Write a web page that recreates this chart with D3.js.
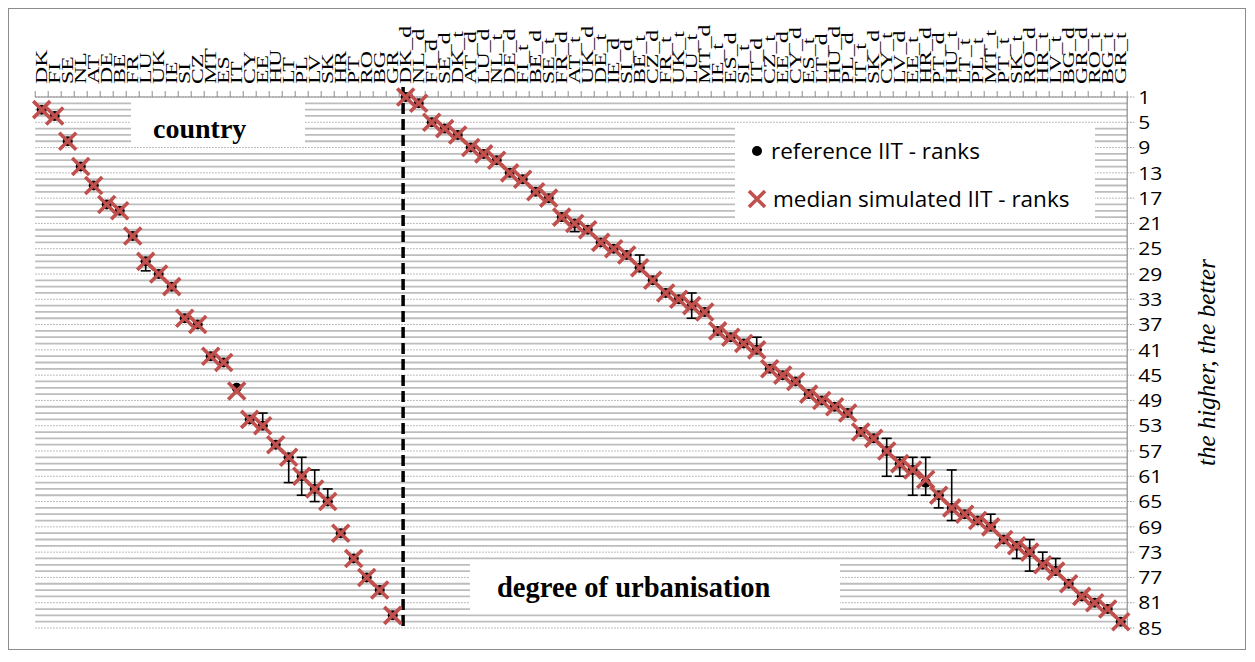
<!DOCTYPE html>
<html>
<head>
<meta charset="utf-8">
<script src="https://cdn.jsdelivr.net/npm/d3@7"></script>
<style>
  body { margin: 0; background: #fff; }
  svg { display: block; }
</style>
</head>
<body>
<svg id="chart" width="1255" height="662"></svg>
<script>
// National units, in rank order
const countryCodes = ["DK","FI","SE","NL","AT","DE","BE","FR","LU","UK","IE","SI","CZ","MT",
  "ES","IT","CY","EE","HU","LT","PL","LV","SK","HR","PT","RO","BG","GR"];
const countryRef    = [3,4,8,12,15,18,19,23,27,29,31,36,37,42,43,47,52,53,56,58,61,63,65,70,74,77,79,83];
const countryMedian = [3,4,8,12,15,18,19,23,27,29,31,36,37,42,43,47.5,52,53,56,58,61,63,65,70,74,77,79,83];
const countryLow    = [null,null,null,null,null,null,null,null,27,null,null,null,null,null,
  null,null,null,51,null,58,58,60,63,null,null,null,null,null];
const countryHigh   = [null,null,null,null,null,null,null,null,28.5,null,null,null,null,null,
  null,null,null,53,null,62,64,65,65,null,null,null,null,null];

// Degree-of-urbanisation units, in rank order
const urbanCodes = ["DK_d","NL_d","FI_d","SE_d","DK_t","AT_d","LU_d","NL_t","DE_d","FI_t","BE_d","SE_t",
  "FR_d","AT_t","UK_d","DE_t","IE_d","SI_d","BE_t","CZ_d","FR_t","UK_t","LU_t","MT_d","IE_t","ES_d",
  "SI_t","IT_d","CZ_t","EE_d","CY_d","ES_t","LT_d","HU_d","PL_d","IT_t","SK_d","CY_t","LV_d","EE_t",
  "HR_d","PT_d","HU_t","LT_t","PL_t","MT_t","PT_t","SK_t","RO_d","HR_t","LV_t","BG_d","GR_d","RO_t",
  "BG_t","GR_t"];
const urbanRef    = [1,2,5,6,7,9,10,11,13,14,16,17,20,21,22,24,25,26,28,30,32,33,34,35,38,39,40,41,
  44,45,46,48,49,50,51,54,55,57,59,60,62,64,66,67,68,69,71,72,73,75,76,78,80,81,82,84];
const urbanMedian = [1,2,5,6,7,9,10,11,13,14,16,17,20,21,22,24,25,26,28,30,32,33,34,35,38,39,40,41,
  44,45,46,48,49,50,51,54,55,57,59,60,61.5,64,66,67,68,69,71,72,73,75,76,78,80,81,82,84];
const urbanLow  = [null,null,null,null,null,null,null,null,null,null,null,null,null,21,null,null,null,null,
  26,null,null,null,32,null,null,null,null,39,null,null,null,null,null,null,null,null,null,55,58,58,
  58,64,60,null,null,67,null,72,71,73,74,null,null,null,null,null];
const urbanHigh = [null,null,null,null,null,null,null,null,null,null,null,null,null,22.3,null,null,null,null,
  28,null,null,null,36,null,null,null,null,41,null,null,null,null,null,null,null,null,null,61,61,64,
  64,66,68,null,null,69,null,74,76,75,76,null,null,null,null,null];

const rankTicks = d3.range(1, 86, 4);
const rankLines = d3.range(1, 86);

const svg = d3.select("#chart");
const allCodes = countryCodes.concat(urbanCodes);

const x = d3.scaleBand().domain(allCodes).range([35.2, 1127.2]).padding(0);
const y = d3.scaleLinear().domain([1, 85]).range([97, 628]);
const bw = x.bandwidth();
const cx = c => x(c) + bw / 2;

const units = countryCodes.map((c, i) => ({code: c, ref: countryRef[i], med: countryMedian[i], lo: countryLow[i], hi: countryHigh[i]}))
  .concat(urbanCodes.map((c, i) => ({code: c, ref: urbanRef[i], med: urbanMedian[i], lo: urbanLow[i], hi: urbanHigh[i]})));

// outer frame
svg.append("rect").attr("x", 8.5).attr("y", 8.5).attr("width", 1237).attr("height", 641)
  .attr("fill", "#fff").attr("stroke", "#8c8c8c").attr("stroke-width", 1);

const [x0, x1] = x.range();

// one gridline per rank: dotted at labelled ranks, solid elsewhere
svg.append("g").selectAll("line").data(rankLines).join("line")
  .attr("x1", x0).attr("x2", x1)
  .attr("y1", d => y(d)).attr("y2", d => y(d))
  .attr("stroke", d => (d - 1) % 4 === 0 ? "#a6a6a6" : "#bdbdbd")
  .attr("stroke-width", d => (d - 1) % 4 === 0 ? 1 : 1.8)
  .attr("stroke-dasharray", d => (d - 1) % 4 === 0 ? "1.5,1.5" : null);

// white panels behind the texts
svg.append("rect").attr("x", 131).attr("y", 99).attr("width", 174).attr("height", 46).attr("fill", "#fff");
svg.append("rect").attr("x", 470).attr("y", 562).attr("width", 370).attr("height", 50).attr("fill", "#fff");
svg.append("rect").attr("x", 735).attr("y", 125).attr("width", 360).attr("height", 95).attr("fill", "#fff");

// category axis along the top
const xAxis = svg.append("g");
xAxis.append("line").attr("x1", x0).attr("x2", x1).attr("y1", y(1)).attr("y2", y(1))
  .attr("stroke", "#8c8c8c").attr("stroke-width", 1.2);
xAxis.selectAll("line.tick").data(allCodes.concat([null])).join("line").attr("class", "tick")
  .attr("x1", (d, i) => x0 + i * bw).attr("x2", (d, i) => x0 + i * bw)
  .attr("y1", y(1)).attr("y2", y(1) - 6)
  .attr("stroke", "#8c8c8c").attr("stroke-width", 1);
xAxis.selectAll("text").data(allCodes).join("text")
  .attr("transform", d => `translate(${cx(d) + 5.5},${y(1) - 13}) rotate(-90) scale(1.4,1)`)
  .attr("font-family", "'Liberation Serif', 'DejaVu Serif', serif")
  .attr("font-size", 17).attr("fill", "#000")
  .text(d => d);

// rank axis on the right
const yAxis = svg.append("g");
yAxis.append("line").attr("x1", x1).attr("x2", x1).attr("y1", y(1)).attr("y2", y(85))
  .attr("stroke", "#8c8c8c").attr("stroke-width", 1.2);
yAxis.selectAll("line.tick").data(rankTicks).join("line").attr("class", "tick")
  .attr("x1", x1).attr("x2", x1 + 7).attr("y1", d => y(d)).attr("y2", d => y(d))
  .attr("stroke", "#8c8c8c").attr("stroke-dasharray", "1.5,1.5");
yAxis.selectAll("text").data(rankTicks).join("text")
  .attr("transform", d => `translate(${x1 + 11},${y(d)}) scale(1.14,1)`)
  .attr("dy", "0.36em")
  .attr("font-family", "'Open Sans', sans-serif").attr("font-size", 18.5).attr("fill", "#000")
  .text(d => d);
svg.append("text")
  .attr("transform", `translate(1206,${(y(1) + y(85)) / 2}) rotate(-90)`)
  .attr("text-anchor", "middle").attr("dy", "0.35em")
  .attr("font-family", "'Liberation Serif', serif").attr("font-style", "italic")
  .attr("font-size", 25).attr("fill", "#000")
  .text("the higher, the better");

// separator between the two groups
const sepX = x(urbanCodes[0]) + bw * 0.3;
svg.append("line").attr("x1", sepX).attr("x2", sepX).attr("y1", y(1) - 10).attr("y2", y(85) + 2)
  .attr("stroke", "#000").attr("stroke-width", 3.5).attr("stroke-dasharray", "11,5");

// error bars of the simulated ranks
const eb = units.filter(d => d.lo !== null);
const ebG = svg.append("g").attr("stroke", "#000").attr("stroke-width", 1.6);
ebG.selectAll("line.v").data(eb).join("line").attr("class", "v")
  .attr("x1", d => cx(d.code)).attr("x2", d => cx(d.code))
  .attr("y1", d => y(d.lo)).attr("y2", d => y(d.hi));
ebG.selectAll("line.lo").data(eb).join("line").attr("class", "lo")
  .attr("x1", d => cx(d.code) - 5).attr("x2", d => cx(d.code) + 5)
  .attr("y1", d => y(d.lo)).attr("y2", d => y(d.lo));
ebG.selectAll("line.hi").data(eb).join("line").attr("class", "hi")
  .attr("x1", d => cx(d.code) - 5).attr("x2", d => cx(d.code) + 5)
  .attr("y1", d => y(d.hi)).attr("y2", d => y(d.hi));

// reference ranks
svg.append("g").selectAll("circle").data(units).join("circle")
  .attr("cx", d => cx(d.code)).attr("cy", d => y(d.ref)).attr("r", 5).attr("fill", "#000");

// median simulated ranks
const cross = s => `M${-s},${-s}L${s},${s}M${-s},${s}L${s},${-s}`;
svg.append("g").selectAll("path").data(units).join("path")
  .attr("transform", d => `translate(${cx(d.code)},${y(d.med)})`)
  .attr("d", cross(8.5)).attr("stroke", "#c0504d").attr("stroke-width", 3.6).attr("fill", "none");

// panel titles
svg.append("text").attr("x", 153).attr("y", 138)
  .attr("font-family", "'Liberation Serif', serif").attr("font-weight", "bold")
  .attr("font-size", 28).attr("fill", "#000").text("country");
svg.append("text").attr("x", 497).attr("y", 597)
  .attr("font-family", "'Liberation Serif', serif").attr("font-weight", "bold")
  .attr("font-size", 28.5).attr("fill", "#000").text("degree of urbanisation");

// legend
const lg = svg.append("g").attr("font-family", "'Open Sans', sans-serif").attr("font-size", 22.5).attr("fill", "#000");
lg.append("circle").attr("cx", 757).attr("cy", 151).attr("r", 5).attr("fill", "#000");
lg.append("text").attr("x", 771).attr("y", 151).attr("dy", "0.35em").text("reference IIT - ranks");
lg.append("path").attr("transform", "translate(757,199)").attr("d", cross(8))
  .attr("stroke", "#c0504d").attr("stroke-width", 3.6).attr("fill", "none");
lg.append("text").attr("x", 773).attr("y", 199).attr("dy", "0.35em").text("median simulated IIT - ranks");
</script>
</body>
</html>
